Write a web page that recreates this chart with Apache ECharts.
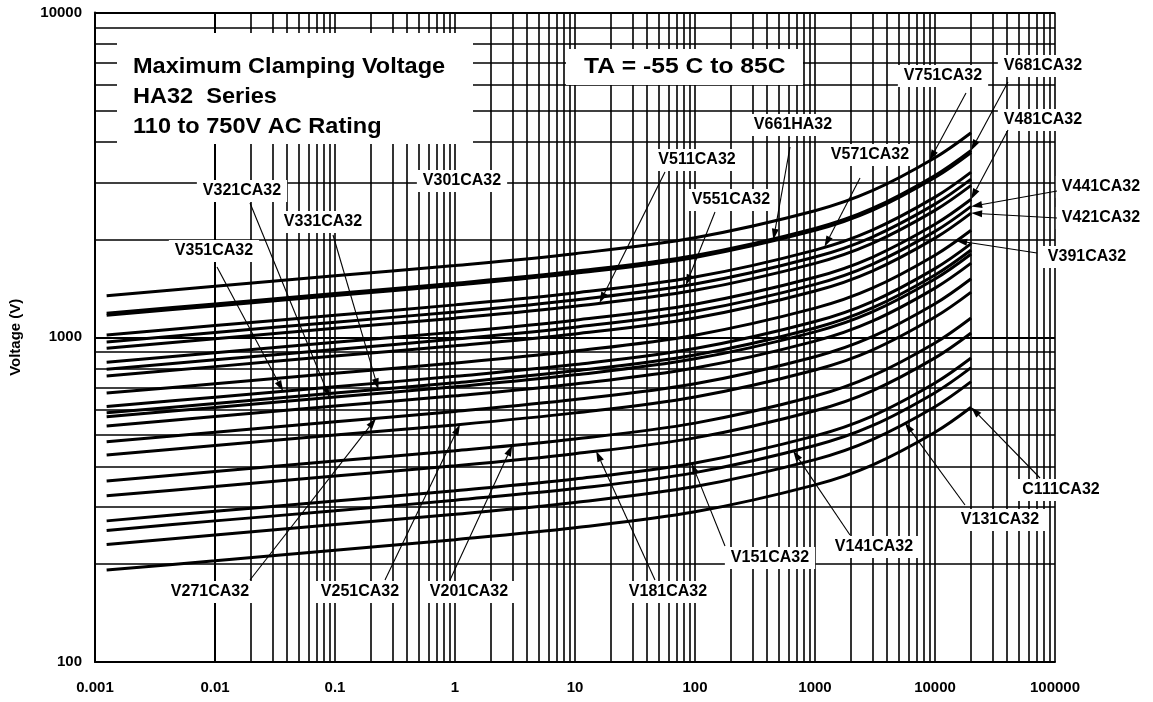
<!DOCTYPE html>
<html><head><meta charset="utf-8">
<script src="https://cdn.jsdelivr.net/npm/echarts@6/dist/echarts.min.js"></script>
<style>html,body{margin:0;padding:0;background:#fff}#c{width:1153px;height:702px}</style>
</head><body><div id="c"></div>
<script>
// Peak current (A) sample points shared by all curves
const currents = [0.00125, 0.01, 0.1, 1, 10, 100, 1000, 3000, 10000, 20000];
// Maximum clamping voltage (V) per model
const V751CA32 = [1343, 1436, 1546, 1663, 1809, 2025, 2452, 2826, 3570, 4261];
const V681CA32 = [1185, 1267, 1364, 1467, 1596, 1787, 2164, 2493, 3150, 3760];
const V661HA32 = [1168, 1249, 1344, 1446, 1573, 1761, 2133, 2457, 3105, 3706];
const V571CA32 = [1016, 1086, 1169, 1258, 1369, 1532, 1855, 2138, 2701, 3224];
const V551CA32 = [967, 1034, 1113, 1197, 1303, 1458, 1766, 2035, 2570, 3068];
const V511CA32 = [925, 989, 1065, 1145, 1246, 1395, 1689, 1946, 2459, 2935];
const V481CA32 = [838, 896, 965, 1037, 1129, 1264, 1530, 1763, 2227, 2659];
const V441CA32 = [797, 852, 917, 987, 1074, 1202, 1455, 1677, 2118, 2529];
const V421CA32 = [760, 812, 875, 941, 1024, 1146, 1388, 1599, 2020, 2412];
const V391CA32 = [673, 719, 775, 833, 907, 1015, 1229, 1416, 1789, 2135];
const V351CA32 = [612, 654, 704, 758, 824, 923, 1118, 1288, 1627, 1942];
const V331CA32 = [585, 625, 673, 724, 788, 882, 1068, 1231, 1555, 1856];
const V321CA32 = [569, 608, 655, 704, 766, 858, 1039, 1197, 1512, 1805];
const V301CA32 = [533, 570, 614, 660, 718, 804, 973, 1121, 1417, 1691];
const V271CA32 = [477, 510, 549, 591, 643, 719, 871, 1004, 1268, 1514];
const V251CA32 = [434, 464, 500, 537, 585, 655, 793, 913, 1154, 1377];
const V201CA32 = [361, 386, 416, 447, 486, 544, 659, 760, 960, 1146];
const V181CA32 = [325, 347, 374, 402, 438, 490, 594, 684, 864, 1031];
const V151CA32 = [272, 291, 313, 337, 366, 410, 497, 572, 723, 863];
const V141CA32 = [254, 272, 292, 315, 342, 383, 464, 534, 675, 806];
const V131CA32 = [230, 246, 265, 285, 310, 347, 420, 484, 611, 730];
const C111CA32 = [192, 205, 221, 238, 259, 290, 351, 404, 510, 609];

const curveNames = ['V751CA32','V681CA32','V661HA32','V571CA32','V551CA32','V511CA32','V481CA32','V441CA32','V421CA32','V391CA32','V351CA32','V331CA32','V321CA32','V301CA32','V271CA32','V251CA32','V201CA32','V181CA32','V151CA32','V141CA32','V131CA32','C111CA32'];
const curveValues = [V751CA32,V681CA32,V661HA32,V571CA32,V551CA32,V511CA32,V481CA32,V441CA32,V421CA32,V391CA32,V351CA32,V331CA32,V321CA32,V301CA32,V271CA32,V251CA32,V201CA32,V181CA32,V151CA32,V141CA32,V131CA32,C111CA32];

const xTickLabels = ['0.001','0.01','0.1','1','10','100','1000','10000','100000'];
const yTickLabels = ['100','1000','10000'];
const yAxisTitle = 'Voltage (V)';
const titleLines = ['Maximum Clamping Voltage', 'HA32  Series', '110 to 750V AC Rating'];
const tempText = 'TA = -55 C to 85C';

// annotation: label text, label centre (px), arrow start (px), arrow tip current (A) on named curve
const annotations = [
  {name:'V751CA32', lx:943, ly:76,  sx:966, sy:93,  tipX:9000},
  {name:'V681CA32', lx:1043, ly:66, sx:1008, sy:82, tipX:20000},
  {name:'V661HA32', lx:793, ly:125, sx:790, sy:147, tipX:450},
  {name:'V571CA32', lx:870, ly:155, sx:860, sy:178, tipX:1200},
  {name:'V511CA32', lx:697, ly:160, sx:665, sy:172, tipX:16},
  {name:'V551CA32', lx:731, ly:200, sx:715, sy:212, tipX:84},
  {name:'V481CA32', lx:1043, ly:120, sx:1008, sy:130, tipX:20000},
  {name:'V441CA32', lx:1101, ly:187, sx:1057, sy:191, tipX:20000},
  {name:'V421CA32', lx:1101, ly:218, sx:1057, sy:218, tipX:20000},
  {name:'V391CA32', lx:1087, ly:257, sx:1037, sy:253, tipX:15000},
  {name:'V321CA32', lx:242, ly:191, sx:250, sy:203, tipX:0.09},
  {name:'V331CA32', lx:323, ly:222, sx:333, sy:235, tipX:0.23},
  {name:'V351CA32', lx:214, ly:251, sx:217, sy:267, tipX:0.037},
  {name:'V301CA32', lx:462, ly:181, sx:null},
  {name:'V271CA32', lx:210, ly:592, sx:250, sy:580, tipX:0.22},
  {name:'V251CA32', lx:360, ly:592, sx:385, sy:580, tipX:1.1},
  {name:'V201CA32', lx:469, ly:592, sx:450, sy:580, tipX:3},
  {name:'V181CA32', lx:668, ly:592, sx:655, sy:580, tipX:15},
  {name:'V151CA32', lx:770, ly:558, sx:725, sy:546, tipX:94},
  {name:'V141CA32', lx:874, ly:547, sx:850, sy:535, tipX:656},
  {name:'V131CA32', lx:1000, ly:520, sx:965, sy:505, tipX:5600},
  {name:'C111CA32', lx:1061, ly:490, sx:1040, sy:478, tipX:20000}
];

const FONT = '"Liberation Sans", Arial, sans-serif';

// grid line values (decades and their multiples)
const xGrid = [], yGrid = [];
for (let e = -3; e <= 4; e++) for (let k = 1; k <= 9; k++) xGrid.push({v: +(k * Math.pow(10, e)).toPrecision(6), major: k === 1});
xGrid.push({v: 100000, major: true});
for (let e = 2; e <= 3; e++) for (let k = 1; k <= 9; k++) yGrid.push({v: +(k * Math.pow(10, e)).toPrecision(6), major: k === 1});
yGrid.push({v: 10000, major: true});

const gridMarks = [];
xGrid.forEach(g => gridMarks.push({xAxis: g.v, lineStyle: {width: 1.6}}));
yGrid.forEach(g => gridMarks.push({yAxis: g.v, lineStyle: {width: g.major ? 2 : 1.6}}));

const chart = echarts.init(document.getElementById('c'), null, {renderer: 'canvas'});

const series = [{
  type: 'line', name: 'grid', data: [[0.001, 100]], symbol: 'none', lineStyle: {width: 0}, z: 1, silent: true,
  markLine: {silent: true, symbol: 'none', label: {show: false}, animation: false,
    lineStyle: {color: '#000', type: 'solid', width: 1.6}, data: gridMarks}
}];
curveNames.forEach((n, i) => {
  series.push({
    type: 'line', name: n, smooth: 0.35, showSymbol: false, symbol: 'none', z: 3,
    lineStyle: {color: '#000', width: 3}, animation: false,
    data: currents.map((c, j) => [c, curveValues[i][j]])
  });
});

const option = {
  animation: false,
  backgroundColor: '#fff',
  grid: {left: 95, right: 98, top: 12.5, bottom: 40, containLabel: false, outerBoundsMode: 'none'},
  xAxis: {
    type: 'log', logBase: 10, min: 0.001, max: 100000,
    axisLine: {show: true, onZero: false, lineStyle: {color: '#000', width: 2}},
    axisTick: {show: false}, splitLine: {show: false}, minorTick: {show: false},
    axisLabel: {margin: 18, color: '#000', fontFamily: FONT, fontWeight: 'bold', fontSize: 15,
      formatter: v => xTickLabels[Math.round(Math.log10(v)) + 3]}
  },
  yAxis: {
    type: 'log', logBase: 10, min: 100, max: 10000,
    name: yAxisTitle, nameLocation: 'middle', nameGap: 72, nameRotate: 90,
    nameTextStyle: {color: '#000', fontFamily: FONT, fontWeight: 'bold', fontSize: 15},
    axisLine: {show: true, onZero: false, lineStyle: {color: '#000', width: 2}},
    axisTick: {show: false}, splitLine: {show: false},
    axisLabel: {margin: 13, color: '#000', fontFamily: FONT, fontWeight: 'bold', fontSize: 15,
      formatter: v => yTickLabels[Math.round(Math.log10(v)) - 2]}
  },
  series: series
};
chart.setOption(option);

function curveValueAt(name, x) {
  const vals = curveValues[curveNames.indexOf(name)];
  const lx = Math.log10(x);
  for (let j = 0; j < currents.length - 1; j++) {
    const a = Math.log10(currents[j]), b = Math.log10(currents[j + 1]);
    if (lx <= b || j === currents.length - 2) {
      const t = (lx - a) / (b - a);
      return Math.pow(10, Math.log10(vals[j]) + t * (Math.log10(vals[j + 1]) - Math.log10(vals[j])));
    }
  }
}

const graphics = [];
// title box
graphics.push({type: 'rect', shape: {x: 117, y: 33, width: 356, height: 111}, style: {fill: '#fff'}, z: 50});
titleLines.forEach((t, i) => graphics.push({type: 'text', x: 133, y: 67 + i * 30, z: 51, scaleX: 1.07,
  style: {text: t, font: 'bold 22px ' + FONT, fill: '#000', verticalAlign: 'middle', align: 'left'}}));
graphics.push({type: 'rect', shape: {x: 566, y: 49, width: 237, height: 36}, style: {fill: '#fff'}, z: 50});
graphics.push({type: 'text', x: 584, y: 67, z: 51, scaleX: 1.12,
  style: {text: tempText, font: 'bold 22px ' + FONT, fill: '#000', align: 'left', verticalAlign: 'middle'}});

annotations.forEach(a => {
  if (a.sx != null) {
    const tip = chart.convertToPixel({gridIndex: 0}, [a.tipX, curveValueAt(a.name, a.tipX)]);
    const dx = tip[0] - a.sx, dy = tip[1] - a.sy, L = Math.hypot(dx, dy);
    const ux = dx / L, uy = dy / L, hl = 11, hw = 3.5;
    const bx = tip[0] - ux * hl, by = tip[1] - uy * hl;
    graphics.push({type: 'line', z: 60, shape: {x1: a.sx, y1: a.sy, x2: bx, y2: by}, style: {stroke: '#000', lineWidth: 1.1}});
    graphics.push({type: 'polygon', z: 60, shape: {points: [[tip[0], tip[1]], [bx - uy * hw, by + ux * hw], [bx + uy * hw, by - ux * hw]]}, style: {fill: '#000'}});
  }
  graphics.push({type: 'text', x: a.lx, y: a.ly, z: 55,
    style: {text: a.name, font: 'bold 16px ' + FONT, fill: '#000', align: 'center', verticalAlign: 'middle',
      backgroundColor: '#fff', padding: [3, 6]}});
});
chart.setOption({graphic: graphics});
</script>
</body></html>
